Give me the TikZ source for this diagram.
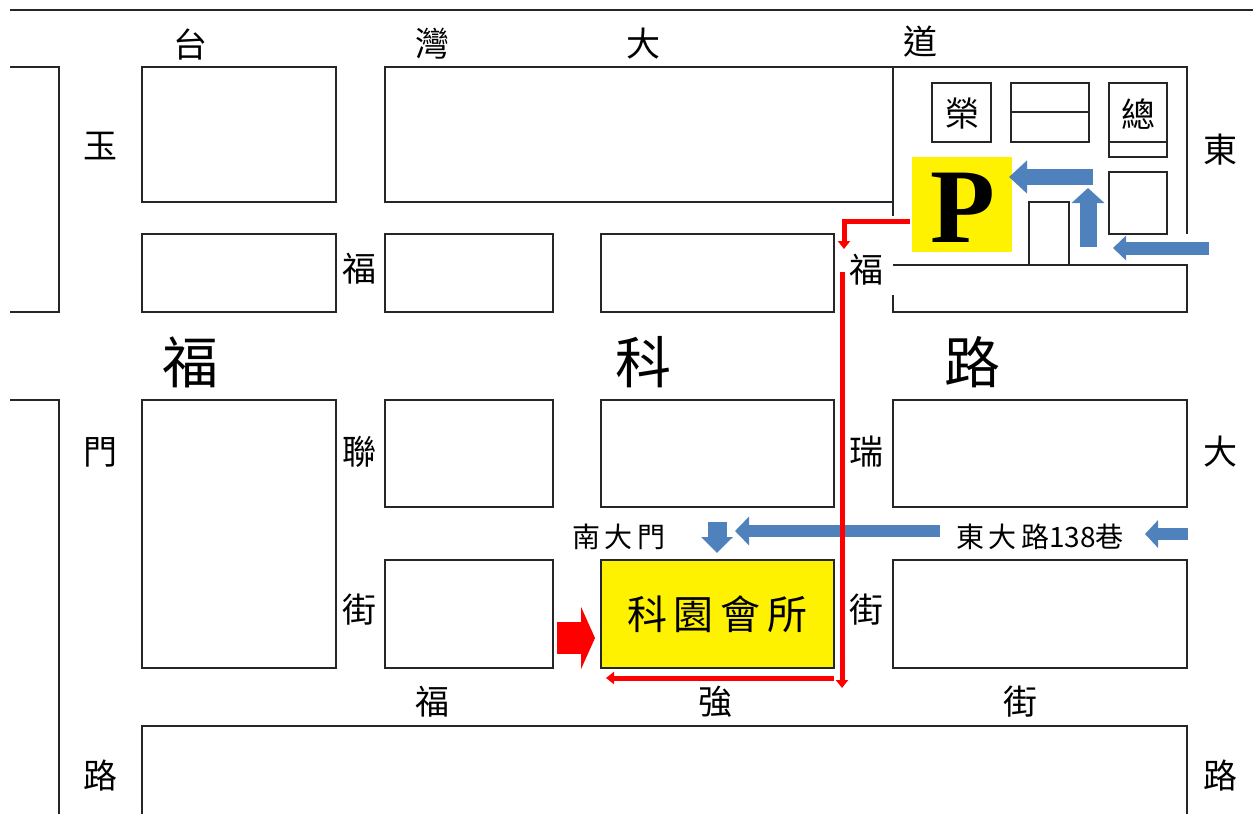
\documentclass[tikz,border=0pt]{standalone}
\usepackage{fontspec}
\newfontfamily\cjk{Noto Sans CJK TC}
\newfontfamily\pfont{Liberation Serif}
\usetikzlibrary{arrows.meta}
\definecolor{roadblue}{HTML}{4F81BD}
\begin{document}
\begin{tikzpicture}[x=1pt, y=-1pt,
	blk/.style={draw=black!85, line width=1.3pt},
	lbl/.style={font=\cjk\fontsize{34}{34}\selectfont, inner sep=0pt},
	biglbl/.style={font=\cjk\fontsize{56}{56}\selectfont, inner sep=0pt},
	smalllbl/.style={font=\cjk\fontsize{28}{28}\selectfont, inner sep=0pt},
	bluearr/.style n args={3}{draw=roadblue, line width=#1, -{Triangle[width=#2, length=#3]}},
	redroute/.style={draw=red, line width=5pt, -{Triangle[width=12pt, length=8pt]}}]
	    \useasboundingbox (0,0) rectangle (1253,814);
	    \draw [blk](10,10) -- (1253,10);
	    \draw [blk](10,67) -- (59,67) -- (59,312) -- (10,312);
	    \draw [blk](10,400) -- (59,400) -- (59,814);
	    \draw [blk](142,67) rectangle (336,202);
	    \draw [blk](385,67) rectangle (893,202);
	    \draw [blk](893,216) -- (893,67) -- (1187,67) -- (1187,234);
	    \draw [blk](142,234) rectangle (336,312);
	    \draw [blk](385,234) rectangle (553,312);
	    \draw [blk](601,234) rectangle (834,312);
	    \draw [blk](893,295) -- (893,312) -- (1187,312) -- (1187,265) -- (893,265);
	    \draw [blk](142,400) rectangle (336,668);
	    \draw [blk](385,400) rectangle (553,507);
	    \draw [blk](601,400) rectangle (834,507);
	    \draw [blk](893,400) rectangle (1187,507);
	    \draw [blk](385,560) rectangle (553,668);
	    \draw [blk, fill=yellow](601,560) rectangle (834,668);
	    \draw [blk](893,560) rectangle (1187,668);
	    \draw [blk](142,814) -- (142,726) -- (1187,726) -- (1187,814);
	    \draw [blk](932,83) rectangle (991,142);
	    \draw [blk](1011,83) rectangle (1089,142) (1011,112) -- (1089,112);
	    \draw [blk](1109,83) rectangle (1167,157) (1109,142) -- (1167,142);
	    \draw [blk](1109,172) rectangle (1167,234);
	    \draw [blk](1029,265) -- (1029,202) -- (1069,202) -- (1069,265);
	    \fill [yellow](912,157) rectangle (1012,252);
	    \node [font=\pfont\bfseries\fontsize{106}{106}\selectfont, inner sep=0pt] (park) at (963,208) {P};
	    \node [lbl] (rong) at (962,114) {榮};
	    \node [lbl] (zong) at (1138,114) {總};
	    \node [lbl] (tai) at (190,44) {台};
	    \node [lbl] (wan) at (432,44) {灣};
	    \node [lbl] (da) at (643,44) {大};
	    \node [lbl] (dao) at (920,42) {道};
	    \node [lbl] (yu) at (100,146) {玉};
	    \node [lbl] (men) at (100,452) {門};
	    \node [lbl] (lu) at (100,776) {路};
	    \node [lbl] (dong) at (1220,150) {東};
	    \node [lbl] (dongda) at (1220,452) {大};
	    \node [lbl] (donglu) at (1220,776) {路};
	    \node [lbl] (fulian) at (359,269) {福};
	    \node [lbl] (lian) at (359,452) {聯};
	    \node [lbl] (lianjie) at (359,610) {街};
	    \node [lbl] (furui) at (866,270) {福};
	    \node [lbl] (rui) at (866,452) {瑞};
	    \node [lbl] (ruijie) at (866,610) {街};
	    \node [lbl] (fuqiang) at (432,702) {福};
	    \node [lbl] (qiang) at (715,702) {強};
	    \node [lbl] (qiangjie) at (1020,702) {街};
	    \node [biglbl] (fuke) at (190,362) {福};
	    \node [biglbl] (ke) at (643,362) {科};
	    \node [biglbl] (kelu) at (972,362) {路};
	    \node [smalllbl] (nandamen) at (619,537) {南\,大\,門};
	    \node [smalllbl] (xiang) at (1040,537) {東\,大\,路138巷};
	    \node [font=\cjk\fontsize{40}{40}\selectfont] (club) at (717,614) {科\,園\,會\,所};
	    \draw [bluearr={16pt}{32pt}{18pt}](1093,177) -- (1009,177);
	    \draw [bluearr={17pt}{32pt}{15pt}](1088,247) -- (1088,188);
	    \draw [bluearr={13pt}{24pt}{13pt}](1209,248) -- (1113,248);
	    \draw [bluearr={12pt}{27pt}{13pt}](1188,534) -- (1145,534);
	    \draw [bluearr={12pt}{28pt}{14pt}](940,531) -- (735,531);
	    \draw [bluearr={19pt}{31pt}{16pt}](717,522) -- (717,553);
	    \draw [draw=red, line width=32pt, -{Triangle[width=62pt, length=14pt]}](557,638) -- (595,638);
	    \draw [redroute](910,221) -- (844,221) -- (844,249);
	    \draw [redroute](842,272) -- (842,688);
	    \draw [redroute](834,678) -- (606,678);
	\end{tikzpicture}
\end{document}
